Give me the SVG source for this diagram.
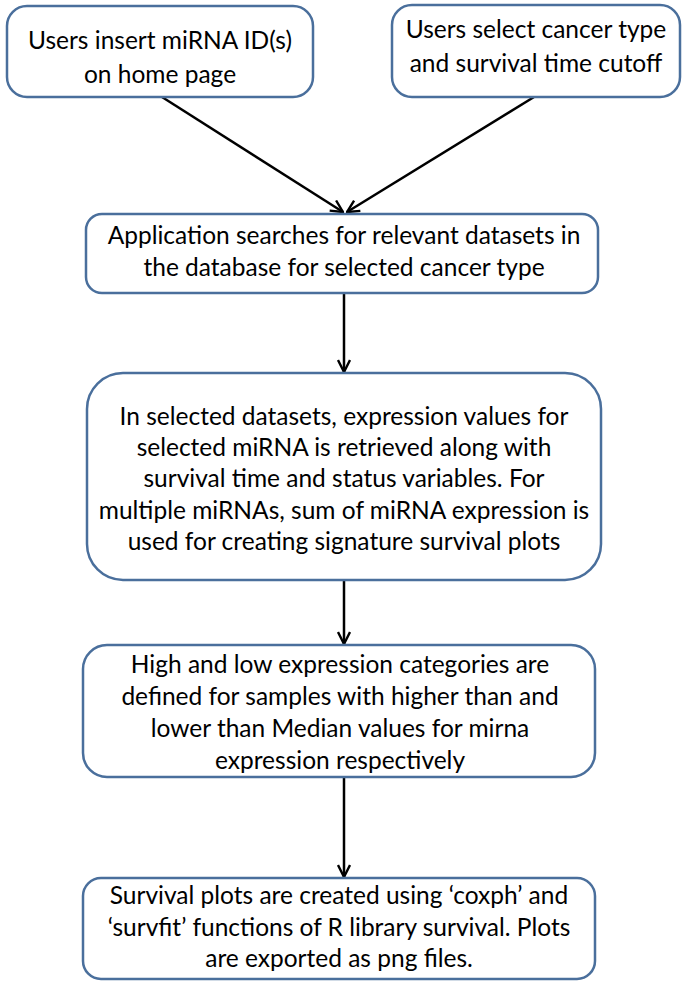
<svg xmlns="http://www.w3.org/2000/svg" width="685" height="986" viewBox="0 0 685 986">
<style>
.box{fill:#ffffff;stroke:#4a6f9c;stroke-width:2.5}
.t{font-family:Lato,"Liberation Sans",sans-serif;font-size:24.5px;fill:#000;text-anchor:middle}
.c{stroke:#000;stroke-width:2.5;fill:none}
</style>
<defs>
<marker id="ah" viewBox="0 0 14 14" refX="13" refY="7" markerWidth="14" markerHeight="14" markerUnits="userSpaceOnUse" orient="auto">
<path d="M1,1 L13,7 L1,13" fill="none" stroke="#000" stroke-width="2.4"/>
</marker>
</defs>
<rect width="685" height="986" fill="#fff"/>
<g id="connectors">
<line class="c" x1="162" y1="97" x2="343" y2="212" marker-end="url(#ah)"/>
<line class="c" x1="534" y1="97" x2="347" y2="212" marker-end="url(#ah)"/>
<line class="c" x1="344" y1="293" x2="344" y2="372" marker-end="url(#ah)"/>
<line class="c" x1="344" y1="580" x2="344" y2="644" marker-end="url(#ah)"/>
<line class="c" x1="344" y1="777" x2="344" y2="877" marker-end="url(#ah)"/>
</g>
<g id="n1">
<rect class="box" x="7" y="6" width="306" height="91" rx="20"/>
<text class="t" x="160" y="49">Users insert miRNA ID(s)</text>
<text class="t" x="160" y="83">on home page</text>
</g>
<g id="n2">
<rect class="box" x="392" y="5" width="288" height="92" rx="20"/>
<text class="t" x="536" y="38">Users select cancer type</text>
<text class="t" x="536" y="72">and survival time cutoff</text>
</g>
<g id="n3">
<rect class="box" x="86" y="214" width="512" height="79" rx="16"/>
<text class="t" x="344" y="244">Application searches for relevant datasets in</text>
<text class="t" x="344" y="276">the database for selected cancer type</text>
</g>
<g id="n4">
<rect class="box" x="87" y="373" width="514" height="207" rx="36"/>
<text class="t" x="344" y="425">In selected datasets, expression values for</text>
<text class="t" x="344" y="456">selected miRNA is retrieved along with</text>
<text class="t" x="344" y="487">survival time and status variables. For</text>
<text class="t" x="344" y="519">multiple miRNAs, sum of miRNA expression is</text>
<text class="t" x="344" y="550">used for creating signature survival plots</text>
</g>
<g id="n5">
<rect class="box" x="83" y="645" width="512" height="132" rx="24"/>
<text class="t" x="340" y="673">High and low expression categories are</text>
<text class="t" x="340" y="705">defined for samples with higher than and</text>
<text class="t" x="340" y="737">lower than Median values for mirna</text>
<text class="t" x="340" y="769">expression respectively</text>
</g>
<g id="n6">
<rect class="box" x="83" y="878" width="512" height="101" rx="18"/>
<text class="t" x="339" y="904">Survival plots are created using ‘coxph’ and</text>
<text class="t" x="339" y="936">‘survfit’ functions of R library survival. Plots</text>
<text class="t" x="339" y="967">are exported as png files.</text>
</g>
</svg>
